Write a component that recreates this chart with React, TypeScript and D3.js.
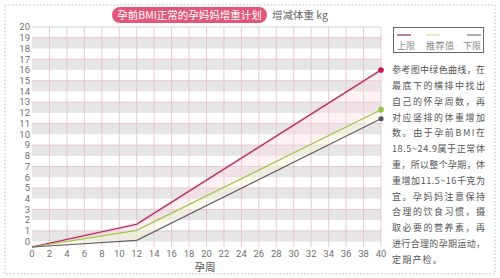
import React from "react";
import * as d3 from "d3";

const weeks = [0, 12, 40];
const upperValues = [-0.5, 1.62, 16];
const recommendValues = [-0.5, 1.05, 12.3];
const lowerValues = [-0.5, 0.12, 11.45];
const xTicks = d3.range(0, 41, 2);
const yTicks = d3.range(0, 21, 1);
const legendLabels = ["上限", "推荐值", "下限"];
const titleText = "孕前BMI正常的孕妈妈增重计划";
const yAxisTitle = "增减体重 kg";
const xAxisTitle = "孕周";
const noteLines = [
  "参考图中绿色曲线，在",
  "最底下的横排中找出",
  "自己的怀孕周数，再",
  "对应竖排的体重增加",
  "数。由于孕前BMI在",
  "18.5~24.9属于正常体",
  "重，所以整个孕期，体",
  "重增加11.5~16千克为",
  "宜。孕妈妈注意保持",
  "合理的饮食习惯，摄",
  "取必要的营养素，再",
  "进行合理的孕期运动，",
  "定期产检。",
];

const W = 500;
const H = 278;
const font = "'Noto Sans CJK SC', 'Noto Sans', sans-serif";
const numFont = "Roboto, 'Liberation Sans', sans-serif";

export default function App() {
  const x = d3.scaleLinear().domain([0, 40]).range([32, 381]);
  const y = d3.scaleLinear().domain([-0.5, 20]).range([247, 27]);

  const line = d3
    .line<number>()
    .x((_, i) => x(weeks[i]))
    .y((d) => y(d));

  const band = (top: number[], bottom: number[]) =>
    d3
      .area<number>()
      .x((_, i) => x(weeks[i]))
      .y0((_, i) => y(bottom[i]))
      .y1((d) => y(d))(top) as string;

  const bands = d3.range(0, 20, 2);
  const oddLines = d3.range(1, 20, 2);

  const legendColors = ["#8e2a6e", "#d6e08a", "#777777"];
  const legendX = [397, 426, 463];
  const legendW = [18, 28, 18];

  return (
    <div style={{ position: "fixed", left: 0, top: 0 }}>
      <svg width={W} height={H} style={{ display: "block", background: "#fff" }}>
        {/* dotted border */}
        <rect
          x={5}
          y={5}
          width={490}
          height={269}
          fill="none"
          stroke="#bdbdbd"
          strokeDasharray="1.5,2"
        />

        {/* gray bands */}
        {bands.map((b) => (
          <rect
            key={b}
            x={x(0)}
            y={y(b + 1)}
            width={x(40) - x(0)}
            height={y(b) - y(b + 1)}
            fill="#e6e6e6"
          />
        ))}

        {/* horizontal lines */}
        {oddLines.map((v) => (
          <line key={v} x1={x(0)} x2={x(40)} y1={y(v)} y2={y(v)} stroke="#eab9c7" strokeWidth={0.8} />
        ))}
        <line x1={x(0)} x2={x(40)} y1={y(20)} y2={y(20)} stroke="#c9c9c9" strokeWidth={0.8} />

        {/* vertical lines */}
        {xTicks.slice(1).map((t) => (
          <line key={t} x1={x(t)} x2={x(t)} y1={y(20)} y2={y(-0.5)} stroke="#e6bcc8" strokeWidth={0.8} />
        ))}

        {/* fills between series */}
        <path d={band(upperValues, recommendValues)} fill="#fbd9e2" opacity={0.35} />
        <path d={band(recommendValues, lowerValues)} fill="#faf7d6" opacity={0.45} />

        {/* series lines */}
        <path d={line(upperValues) as string} fill="none" stroke="#f3a0b8" strokeWidth={3} opacity={0.45} />
        <path d={line(upperValues) as string} fill="none" stroke="#a2255c" strokeWidth={1.2} />
        <path d={line(recommendValues) as string} fill="none" stroke="#9fc34a" strokeWidth={1.1} />
        <path d={line(lowerValues) as string} fill="none" stroke="#5f5f6a" strokeWidth={1.1} />

        <circle cx={x(40)} cy={y(upperValues[2])} r={2.8} fill="#c3195a" />
        <circle cx={x(40)} cy={y(recommendValues[2])} r={2.8} fill="#8ec43e" />
        <circle cx={x(40)} cy={y(lowerValues[2])} r={2.6} fill="#555560" />

        {/* y axis labels */}
        {yTicks.map((t) => (
          <text
            key={t}
            x={30}
            y={y(t)}
            dy="0.35em"
            textAnchor="end"
            fontSize={9.5}
            fill="#707070"
            fontFamily={numFont}
          >
            {t}
          </text>
        ))}

        {/* x axis labels */}
        {xTicks.map((t) => (
          <text
            key={t}
            x={x(t)}
            y={254}
            dy="0.35em"
            textAnchor="middle"
            fontSize={9.5}
            fill="#707070"
            fontFamily={numFont}
          >
            {t}
          </text>
        ))}
        <text x={205} y={267} dy="0.35em" textAnchor="middle" fontSize={10.5} fill="#555" fontFamily={font}>
          {xAxisTitle}
        </text>

        {/* title pill */}
        <rect x={112} y={7} width={155} height={16} rx={8} fill="#e2567a" />
        <text
          x={189.5}
          y={15}
          dy="0.35em"
          textAnchor="middle"
          fontSize={10.5}
          fill="#ffffff"
          fontFamily={font}
        >
          {titleText}
        </text>
        <text x={272} y={15} dy="0.35em" fontSize={10.5} fill="#666" fontFamily={font}>
          {yAxisTitle}
        </text>

        {/* legend */}
        <rect x={393.5} y={27.5} width={90} height={25} fill="#fff" stroke="#666" strokeWidth={1} />
        {legendLabels.map((l, i) => {
          const lx = legendX[i];
          const w = legendW[i];
          const lineStart = i === 2 ? lx + 4 : lx;
          return (
            <g key={l}>
              <line
                x1={lineStart}
                x2={lineStart + 14}
                y1={35}
                y2={35}
                stroke={legendColors[i]}
                strokeWidth={1.2}
              />
              <text
                x={lx}
                y={46}
                dy="0.35em"
                fontSize={9}
                fill="#888"
                fontFamily={font}
                textLength={w}
                lengthAdjust="spacing"
              >
                {l}
              </text>
            </g>
          );
        })}

        {/* note paragraph */}
        {noteLines.map((l, i) => (
          <text
            key={i}
            x={392}
            y={70 + i * 15.8}
            dy="0.35em"
            fontSize={9}
            fill="#555"
            fontFamily={font}
            {...(i < noteLines.length - 1 ? { textLength: 93, lengthAdjust: "spacing" } : { letterSpacing: 1.2 })}
          >
            {l}
          </text>
        ))}
      </svg>
    </div>
  );
}
